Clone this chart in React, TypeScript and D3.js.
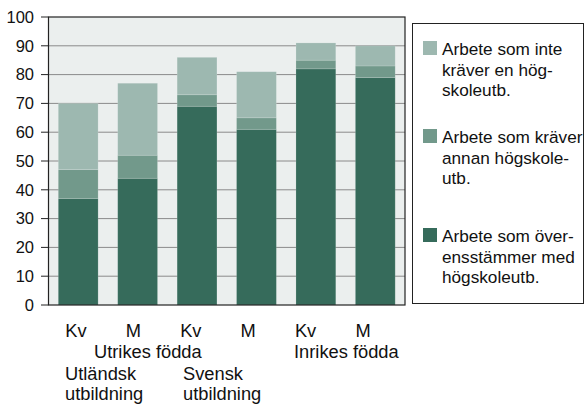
import React, { useEffect, useRef } from 'react';
import * as d3 from 'd3';

// bar keys and their short labels (Kv = kvinnor, M = män)
const barKeys = ['utl-kv', 'utl-m', 'sv-kv', 'sv-m', 'inr-kv', 'inr-m'];
const barLabels = ['Kv', 'M', 'Kv', 'M', 'Kv', 'M'];

// percent, stacked bottom -> top
const matchingDegree = [37, 44, 69, 61, 82, 79];
const otherDegree = [10, 8, 4, 4, 3, 4];
const noDegree = [23, 25, 13, 16, 6, 7];

const yTicks = [0, 10, 20, 30, 40, 50, 60, 70, 80, 90, 100];

const legendItems = [
  ['Arbete som inte', 'kräver en hög-', 'skoleutb.'],
  ['Arbete som kräver', 'annan högskole-', 'utb.'],
  ['Arbete som över-', 'ensstämmer med', 'högskoleutb.'],
];

const colors = { no: '#9db8b0', other: '#72998b', match: '#366b5b' };
const FONT = '"Liberation Sans", Arial, sans-serif';

const App = () => {
  const svgRef = useRef<SVGSVGElement>(null);

  useEffect(() => {
    document.body.style.margin = '0';
    const svg = d3.select(svgRef.current);
    svg.selectAll('*').remove();

    const left = 48.5, right = 405, top = 17, bottom = 305;

    const x = d3.scaleBand<string>()
      .domain(barKeys)
      .range([left, right])
      .paddingInner(0.33)
      .paddingOuter(0.165);

    const y = d3.scaleLinear().domain([0, 100]).range([bottom, top]);

    // plot background
    svg.append('rect')
      .attr('x', left).attr('y', top)
      .attr('width', right - left).attr('height', bottom - top)
      .attr('fill', '#ebefee');

    // grid lines
    svg.append('g')
      .selectAll('line')
      .data(yTicks.filter(t => t > 0 && t < 100))
      .join('line')
      .attr('x1', left).attr('x2', right)
      .attr('y1', d => y(d)).attr('y2', d => y(d))
      .attr('stroke', '#8a8a8a')
      .attr('stroke-width', 1);

    // stacked bars
    const rows = barKeys.map((k, i) => ({
      key: k,
      match: matchingDegree[i],
      other: otherDegree[i],
      no: noDegree[i],
    }));
    const stack = d3.stack<any>().keys(['match', 'other', 'no'])(rows);

    svg.append('g')
      .selectAll('g')
      .data(stack)
      .join('g')
      .attr('fill', d => (colors as any)[d.key])
      .selectAll('rect')
      .data(d => d)
      .join('rect')
      .attr('x', d => x(d.data.key)!)
      .attr('width', x.bandwidth())
      .attr('y', d => y(d[1]))
      .attr('height', d => y(d[0]) - y(d[1]))
      .attr('stroke', 'rgba(255,255,255,0.18)')
      .attr('stroke-width', 0.8);

    // frame
    svg.append('rect')
      .attr('x', left).attr('y', top)
      .attr('width', right - left).attr('height', bottom - top)
      .attr('fill', 'none')
      .attr('stroke', '#222')
      .attr('stroke-width', 1.2);

    // y axis ticks and labels
    const yAxis = svg.append('g');
    yAxis.selectAll('line')
      .data(yTicks)
      .join('line')
      .attr('x1', 41).attr('x2', left)
      .attr('y1', d => y(d)).attr('y2', d => y(d))
      .attr('stroke', '#222');
    yAxis.selectAll('text')
      .data(yTicks)
      .join('text')
      .attr('x', 34)
      .attr('y', d => y(d))
      .attr('dy', '0.35em')
      .attr('text-anchor', 'end')
      .attr('font-family', FONT)
      .attr('font-size', 16.5)
      .attr('fill', '#111')
      .text(d => d);

    // x labels
    const lx = d3.scalePoint<string>().domain(barKeys).range([76, 363]);
    const xl = svg.append('g')
      .attr('font-family', FONT)
      .attr('font-size', 18.3)
      .attr('fill', '#111');
    xl.selectAll('text.bar')
      .data(barKeys)
      .join('text')
      .attr('class', 'bar')
      .attr('x', d => lx(d)!)
      .attr('y', 337)
      .attr('text-anchor', 'middle')
      .text((d, i) => barLabels[i]);

    xl.append('text').attr('x', 94).attr('y', 358).text('Utrikes födda');
    xl.append('text').attr('x', 294).attr('y', 358).text('Inrikes födda');
    xl.append('text').attr('x', 65).attr('y', 379.5).text('Utländsk');
    xl.append('text').attr('x', 65).attr('y', 400).text('utbildning');
    xl.append('text').attr('x', 183).attr('y', 379.5).text('Svensk');
    xl.append('text').attr('x', 183).attr('y', 400).text('utbildning');

    // legend
    svg.append('rect')
      .attr('x', 412.5).attr('y', 23.5)
      .attr('width', 171).attr('height', 280)
      .attr('fill', '#fff')
      .attr('stroke', '#222')
      .attr('stroke-width', 1);

    const legendColors = [colors.no, colors.other, colors.match];
    const legendTop = [55, 143, 242];
    legendItems.forEach((lines, i) => {
      const g = svg.append('g');
      g.append('rect')
        .attr('x', 423).attr('y', legendTop[i] - 14)
        .attr('width', 14).attr('height', 14)
        .attr('fill', legendColors[i]);
      g.selectAll('text')
        .data(lines)
        .join('text')
        .attr('x', 442)
        .attr('y', (d, j) => legendTop[i] + j * 20.5)
        .attr('font-family', FONT)
        .attr('font-size', 17.2)
        .attr('fill', '#111')
        .text(d => d);
    });
  }, []);

  return <svg ref={svgRef} width={584} height={405} style={{ display: 'block' }} />;
};

export default App;
